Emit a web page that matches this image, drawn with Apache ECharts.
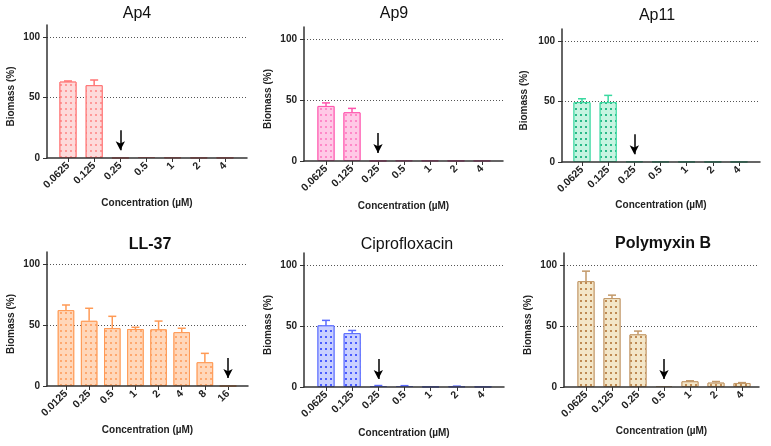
<!DOCTYPE html>
<html>
<head>
<meta charset="utf-8">
<script src="https://cdn.jsdelivr.net/npm/echarts@6/dist/echarts.min.js"></script>
<style>
  html, body { margin: 0; padding: 0; background: #fff; }
  #chart { width: 771px; height: 446px; }
</style>
</head>
<body>
<div id="chart"></div>
<script>
// concentrations (µM)
const conc = ['0.0625', '0.125', '0.25', '0.5', '1', '2', '4'];
const concLL37 = ['0.0125', '0.25', '0.5', '1', '2', '4', '8', '16'];

// mean biomass (%) and upper SD
const ap4Mean = [63.2, 60.2, 0.2, 0.8, 0.5, 0.3, 0.3];
const ap4Sd = [0.5, 4.3, 0, 0, 0, 0, 0];
const ap9Mean = [45.2, 40.0, 0.2, 0.5, 0.4, 0.3, 0.3];
const ap9Sd = [2.5, 3.2, 0, 0, 0, 0, 0];
const ap11Mean = [49.5, 49.5, 0.5, 0.3, 0.3, 0.2, 0.2];
const ap11Sd = [2.8, 5.6, 0, 0, 0, 0, 0];
const ll37Mean = [62.3, 53.5, 47.5, 46.8, 46.5, 44.2, 19.5, 0];
const ll37Sd = [4.2, 10.3, 9.7, 1.4, 6.8, 3.2, 7.3, 0];
const ciproMean = [50.6, 44.2, 0.8, 0.8, 0.3, 0.5, 0.3];
const ciproSd = [4.1, 2.2, 0.4, 0.3, 0, 0.2, 0];
const polyMean = [86.9, 73.0, 43.2, 0.8, 4.7, 3.6, 3.3];
const polySd = [8.2, 2.4, 2.7, 0, 0.4, 0.9, 0.3];

// MIC arrows
const arrowAt = ['0.25', '0.25', '0.25', '16', '0.25', '0.5'];
const arrowFrom = 23;
const arrowTo = 6.5;

const yTicks = [0, 50, 100];

const W = 771, H = 446;
const FONT = "'Liberation Sans', Arial, sans-serif";

// layout: outer = [axisX, axisRight, top, zeroY], inner = [firstBandLeft, lastBandRight]
const panels = [
    { title: 'Ap4', bold: false, tx: 137, ty: 6, cats: conc, mean: ap4Mean, sd: ap4Sd,
      outer: [47, 247, 25, 158], inner: [54.9, 238.1], xGap: 40, yGap: 31,
      border: '#ff7272', fill: '#fddada', dot: '#ff9898' },
    { title: 'Ap9', bold: false, tx: 394, ty: 6, cats: conc, mean: ap9Mean, sd: ap9Sd,
      outer: [304, 503, 27, 161], inner: [313, 495], xGap: 40, yGap: 31,
      border: '#ff55ad', fill: '#ffc9e6', dot: '#ff88c8' },
    { title: 'Ap11', bold: false, tx: 657, ty: 8, cats: conc, mean: ap11Mean, sd: ap11Sd,
      outer: [562, 760, 29, 162], inner: [568.9, 752.1], xGap: 38, yGap: 33,
      border: '#3ad9a0', fill: '#c6f4e1', dot: '#29b987' },
    { title: 'LL-37', bold: true, tx: 150, ty: 237, cats: concLL37, mean: ll37Mean, sd: ll37Sd,
      outer: [47, 248, 252, 386], inner: [54.4, 239.6], xGap: 39, yGap: 31,
      border: '#ff9a55', fill: '#ffd7ba', dot: '#ffa86e' },
    { title: 'Ciprofloxacin', bold: false, tx: 407, ty: 237, cats: conc, mean: ciproMean, sd: ciproSd,
      outer: [304, 504, 253, 387], inner: [312.9, 496.1], xGap: 41, yGap: 31,
      border: '#5a6bff', fill: '#c9d0ff', dot: '#4a5cff' },
    { title: 'Polymyxin B', bold: true, tx: 663, ty: 236, cats: conc, mean: polyMean, sd: polySd,
      outer: [564, 759, 253, 387], inner: [573, 755], xGap: 39, yGap: 31,
      border: '#c29868', fill: '#f3e6c8', dot: '#bf8a52' }
];

const chart = echarts.init(document.getElementById('chart'), null, { renderer: 'canvas' });

const option = {
    backgroundColor: '#fff',
    animation: false,
    title: [],
    grid: [],
    xAxis: [],
    yAxis: [],
    series: []
};

function errRenderer(color) {
    return function (params, api) {
        const x = api.value(0), lo = api.value(1), hi = api.value(2);
        if (!(hi > lo)) return null;
        const p0 = api.coord([x, lo]);
        const p1 = api.coord([x, hi]);
        const half = 4;
        const style = { stroke: color, lineWidth: 1.5 };
        return {
            type: 'group',
            children: [
                { type: 'line', shape: { x1: p0[0], y1: p0[1], x2: p1[0], y2: p1[1] }, style: style },
                { type: 'line', shape: { x1: p1[0] - half, y1: p1[1], x2: p1[0] + half, y2: p1[1] }, style: style }
            ]
        };
    };
}

panels.forEach((p, k) => {
    const go = 2 * k, gi = 2 * k + 1;
    const [ax, ar, top, zero] = p.outer;

    option.title.push({
        text: p.title, left: p.tx, top: p.ty, textAlign: 'center', padding: 0,
        textStyle: { fontFamily: FONT, fontSize: 16, fontWeight: p.bold ? 'bold' : 'normal', color: '#111' }
    });

    // frame grid (axis lines, ticks, gridlines) and bar grid
    option.grid.push({ left: ax, right: W - ar, top: top, bottom: H - zero });
    option.grid.push({ left: p.inner[0], right: W - p.inner[1], top: top, bottom: H - zero });

    option.xAxis.push({
        type: 'value', gridIndex: go, min: 0, max: 1, z: 10,
        axisLine: { show: true, lineStyle: { color: '#333', width: 1.5 } },
        axisTick: { show: false }, axisLabel: { show: false }, splitLine: { show: false },
        name: 'Concentration (µM)', nameLocation: 'middle', nameGap: p.xGap,
        nameTextStyle: { fontFamily: FONT, fontSize: 10, fontWeight: 'bold', color: '#222' }
    });
    option.xAxis.push({
        type: 'category', gridIndex: gi, data: p.cats,
        axisLine: { show: false },
        axisTick: { show: true, alignWithLabel: true, length: 4, lineStyle: { color: '#333', width: 1 } },
        axisLabel: { rotate: 45, margin: 6, fontFamily: FONT, fontSize: 10.5, fontWeight: 'bold', color: '#222', interval: 0 }
    });

    option.yAxis.push({
        type: 'value', gridIndex: go, min: 0, max: 110, interval: 50,
        axisLine: { show: true, lineStyle: { color: '#333', width: 1.5 } },
        axisTick: { show: true, length: 4, customValues: yTicks, lineStyle: { color: '#333', width: 1 } },
        axisLabel: { customValues: yTicks, margin: 7, fontFamily: FONT, fontSize: 10, fontWeight: 'bold', color: '#222' },
        splitLine: { show: true, showMinLine: false, lineStyle: { color: '#555', type: [1, 2], width: 1 } },
        name: 'Biomass (%)', nameLocation: 'middle', nameGap: p.yGap,
        nameTextStyle: { fontFamily: FONT, fontSize: 10, fontWeight: 'bold', color: '#222', padding: [0, 10, 0, 0] }
    });
    option.yAxis.push({ type: 'value', gridIndex: gi, min: 0, max: 110, show: false });

    option.series.push({
        type: 'bar', xAxisIndex: gi, yAxisIndex: gi, data: p.mean, barWidth: p.cats.length > 7 ? 16.5 : 17,
        z: 3,
        itemStyle: {
            color: p.fill, borderColor: p.border, borderWidth: 1,
            decal: { symbol: 'rect', symbolSize: 1, color: p.dot, backgroundColor: p.fill,
                     dashArrayX: [1.2, 2.4], dashArrayY: [1.2, 3.2] }
        },
        markLine: {
            silent: true, symbol: ['none', 'arrow'], symbolSize: [7, 9], z: 12,
            label: { show: false },
            lineStyle: { color: '#000', width: 1.5, type: 'solid' },
            data: [[{ coord: [arrowAt[k], arrowFrom] }, { coord: [arrowAt[k], arrowTo] }]]
        }
    });
    option.series.push({
        type: 'custom', xAxisIndex: gi, yAxisIndex: gi, z: 4,
        renderItem: errRenderer(p.border),
        encode: { x: 0, y: [1, 2] },
        data: p.mean.map((m, i) => [i, m, m + p.sd[i]])
    });
});

chart.setOption(option);
</script>
</body>
</html>
